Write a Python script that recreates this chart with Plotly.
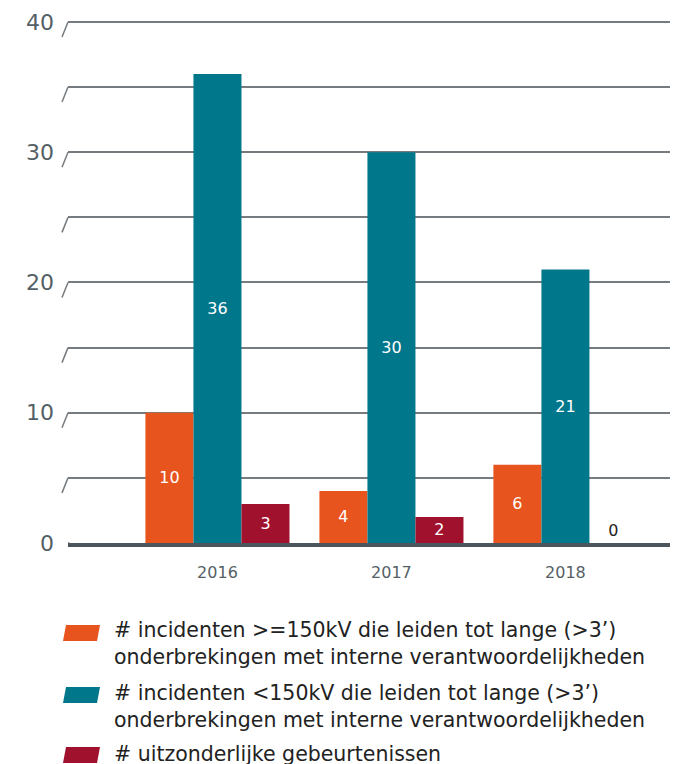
import plotly.graph_objects as go

years = ["2016", "2017", "2018"]
series_names = [
    "# incidenten >=150kV die leiden tot lange (>3’)<br>onderbrekingen met interne verantwoordelijkheden",
    "# incidenten <150kV die leiden tot lange (>3’)<br>onderbrekingen met interne verantwoordelijkheden",
    "# uitzonderlijke gebeurtenissen",
]
high_voltage = [10, 4, 6]
low_voltage = [36, 30, 21]
exceptional = [3, 2, 0]
colors = ["#e8541e", "#00778b", "#a0112e"]
grid_vals = [0, 5, 10, 15, 20, 25, 30, 35, 40]
grid_text = ["0", "", "10", "", "20", "", "30", "", "40"]

FONT = "DejaVu Sans"
OFF = 8  # default page body margin
W, H = 678 - OFF, 764 - OFF
ML, MR, MT = 68 - OFF, 0, 20 - OFF
PLOT_BOTTOM = 543 - OFF
MB = H - PLOT_BOTTOM
PW, PH = W - ML - MR, H - MT - MB

fig = go.Figure()
x_pos = list(range(len(years)))
for name, vals, col in zip(series_names, [high_voltage, low_voltage, exceptional], colors):
    fig.add_trace(go.Bar(
        x=x_pos, y=vals, name=name, marker=dict(color=col, line=dict(width=0)),
        text=[str(v) for v in vals],
        textposition=["inside" if v > 0 else "outside" for v in vals],
        insidetextanchor="middle",
        textfont=dict(family=FONT, size=16, color=["white" if v > 0 else "#222222" for v in vals]),
        cliponaxis=False, showlegend=False,
    ))

fig.update_layout(
    width=W, height=H, margin=dict(l=ML, r=MR, t=MT, b=MB, pad=0),
    paper_bgcolor="white", plot_bgcolor="white",
    barmode="group", bargap=0.172, bargroupgap=0,
    font=dict(family=FONT, color="#555f66"),
)
fig.update_xaxes(
    range=[-0.859, 2.647], tickvals=x_pos, ticktext=years,
    showgrid=False, zeroline=False, showline=True, linecolor="#4b555b", linewidth=4,
    ticks="", ticklabelstandoff=12, tickfont=dict(family=FONT, size=16, color="#555f66"),
)
fig.update_yaxes(
    range=[0, 40.15], tickvals=grid_vals, ticktext=grid_text,
    showgrid=True, gridcolor="#767b7f", gridwidth=2, zeroline=False, showline=False,
    ticks="", ticklabelstandoff=13, tickfont=dict(family=FONT, size=22, color="#555f66"),
)

# slanted tick marks at each gridline
for v in grid_vals:
    zero = v == 0
    fig.add_shape(type="line", xref="paper", yref="y",
                  xsizemode="pixel", ysizemode="pixel", xanchor=0, yanchor=v,
                  x0=2 if zero else 0, x1=-5 if zero else -6, y0=0, y1=-15,
                  line=dict(color="#4b555b" if zero else "#767b7f", width=4 if zero else 1.5))

# custom legend with parallelogram swatches (reference pixel positions)
def px_x(X):
    return (X - OFF - ML) / PW

def px_y(Y):
    return (PLOT_BOTTOM - (Y - OFF)) / PH

legend_marker_bottom = [641, 703, 763]
legend_text_center = [643.5, 707, 754]
for name, col, mb, tc in zip(series_names, colors, legend_marker_bottom, legend_text_center):
    fig.add_shape(type="path", xref="paper", yref="paper",
                  xsizemode="pixel", ysizemode="pixel", xanchor=px_x(63), yanchor=px_y(mb),
                  path="M0,0 L34,0 L37,16 L3,16 Z", fillcolor=col, line=dict(width=0))
    fig.add_annotation(xref="paper", yref="paper", x=px_x(112), y=px_y(tc),
                       xanchor="left", yanchor="middle", align="left", showarrow=False,
                       text=name, font=dict(family=FONT, size=20.5, color="#222222"))

fig.write_html("out.html")
